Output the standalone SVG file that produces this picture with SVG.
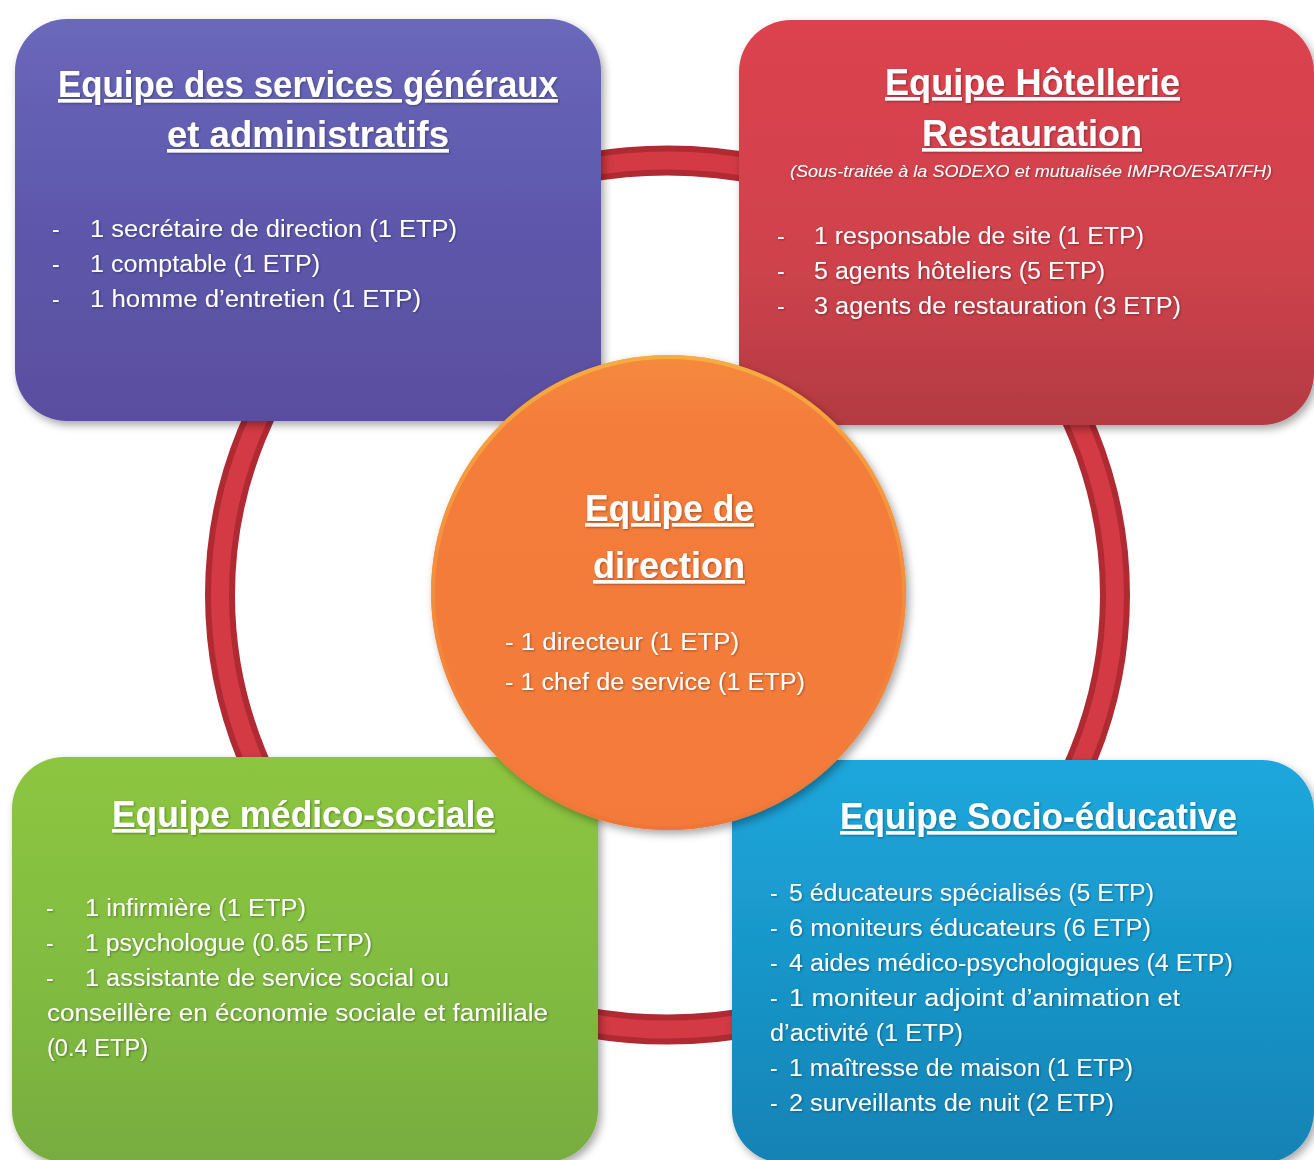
<svg xmlns="http://www.w3.org/2000/svg" width="1314" height="1160" viewBox="0 0 1314 1160">
<style>
.t{font-family:"Liberation Sans",Arial,sans-serif;font-weight:bold;font-size:36px;fill:#fff;text-decoration:underline}
.i{font-family:"Liberation Sans",Arial,sans-serif;font-size:23px;fill:#fff}
.s{font-family:"Liberation Sans",Arial,sans-serif;font-style:italic;font-size:17px;fill:#fff}
</style>
<defs>
<filter id="sh" x="-10%" y="-10%" width="120%" height="120%">
<feDropShadow dx="3" dy="4" stdDeviation="4" flood-color="#000" flood-opacity="0.35"/>
</filter>
<filter id="ts" x="-5%" y="-20%" width="110%" height="140%">
<feDropShadow dx="1" dy="1" stdDeviation="0.8" flood-color="#000" flood-opacity="0.35"/>
</filter>
<linearGradient id="gP" x1="0" y1="0" x2="0" y2="1">
<stop offset="0" stop-color="#6a68bb"/><stop offset="0.5" stop-color="#5d58ac"/><stop offset="1" stop-color="#5a4e9f"/>
</linearGradient>
<linearGradient id="gR" x1="0" y1="0" x2="0" y2="1">
<stop offset="0" stop-color="#dc434e"/><stop offset="0.6" stop-color="#cf434c"/><stop offset="1" stop-color="#b33a41"/>
</linearGradient>
<linearGradient id="gG" x1="0" y1="0" x2="0" y2="1">
<stop offset="0" stop-color="#8cc63f"/><stop offset="0.5" stop-color="#82bd42"/><stop offset="1" stop-color="#77ad3f"/>
</linearGradient>
<linearGradient id="gB" x1="0" y1="0" x2="0" y2="1">
<stop offset="0" stop-color="#1ea7dc"/><stop offset="0.5" stop-color="#1896c9"/><stop offset="1" stop-color="#1382b4"/>
</linearGradient>
<linearGradient id="gO" x1="0" y1="0" x2="0" y2="1">
<stop offset="0" stop-color="#f58a3d"/><stop offset="0.15" stop-color="#f47d3b"/><stop offset="1" stop-color="#f37a3b"/>
</linearGradient>
<linearGradient id="gOr" x1="0" y1="0" x2="0" y2="1">
<stop offset="0" stop-color="#f6b640"/><stop offset="0.35" stop-color="#f59a3e"/><stop offset="1" stop-color="#ee7436"/>
</linearGradient>
</defs>

<g id="connectors">
<ellipse cx="667.5" cy="595" rx="447.5" ry="434.5" fill="none" stroke="#b02a33" stroke-width="30"/>
<ellipse cx="667.5" cy="595" rx="447.5" ry="434.5" fill="none" stroke="#d33a43" stroke-width="18"/>
</g>

<g id="node-services-generaux">
<rect x="15" y="19" width="586" height="402" rx="52" fill="url(#gP)" filter="url(#sh)"/>
<g filter="url(#ts)">
<text class="t" x="58" y="97" textLength="500" lengthAdjust="spacingAndGlyphs">Equipe des services généraux</text>
<text class="t" x="167" y="147" textLength="282" lengthAdjust="spacingAndGlyphs">et administratifs</text>
<text class="i" x="52" y="237">-</text>
<text class="i" x="52" y="272">-</text>
<text class="i" x="52" y="307">-</text>
<text class="i" x="90" y="237" textLength="367" lengthAdjust="spacingAndGlyphs">1 secrétaire de direction (1 ETP)</text>
<text class="i" x="90" y="272" textLength="230" lengthAdjust="spacingAndGlyphs">1 comptable (1 ETP)</text>
<text class="i" x="90" y="307" textLength="331" lengthAdjust="spacingAndGlyphs">1 homme d’entretien (1 ETP)</text>
</g>
</g>

<g id="node-hotellerie">
<rect x="739" y="20" width="575" height="405" rx="52" fill="url(#gR)" filter="url(#sh)"/>
<g filter="url(#ts)">
<text class="t" x="885" y="95" textLength="295" lengthAdjust="spacingAndGlyphs">Equipe Hôtellerie</text>
<text class="t" x="922" y="146" textLength="220" lengthAdjust="spacingAndGlyphs">Restauration</text>
<text class="s" x="790" y="177" textLength="482" lengthAdjust="spacingAndGlyphs">(Sous-traitée à la SODEXO et mutualisée IMPRO/ESAT/FH)</text>
<text class="i" x="777" y="244">-</text>
<text class="i" x="777" y="279">-</text>
<text class="i" x="777" y="314">-</text>
<text class="i" x="814" y="244" textLength="330" lengthAdjust="spacingAndGlyphs">1 responsable de site (1 ETP)</text>
<text class="i" x="814" y="279" textLength="291" lengthAdjust="spacingAndGlyphs">5 agents hôteliers (5 ETP)</text>
<text class="i" x="814" y="314" textLength="367" lengthAdjust="spacingAndGlyphs">3 agents de restauration (3 ETP)</text>
</g>
</g>

<g id="node-medico-sociale">
<rect x="12" y="757" width="586" height="405" rx="52" fill="url(#gG)" filter="url(#sh)"/>
<g filter="url(#ts)">
<text class="t" x="112" y="827" textLength="383" lengthAdjust="spacingAndGlyphs">Equipe médico-sociale</text>
<text class="i" x="46" y="916">-</text>
<text class="i" x="46" y="951">-</text>
<text class="i" x="46" y="986">-</text>
<text class="i" x="85" y="916" textLength="221" lengthAdjust="spacingAndGlyphs">1 infirmière (1 ETP)</text>
<text class="i" x="85" y="951" textLength="287" lengthAdjust="spacingAndGlyphs">1 psychologue (0.65 ETP)</text>
<text class="i" x="85" y="986" textLength="364" lengthAdjust="spacingAndGlyphs">1 assistante de service social ou</text>
<text class="i" x="47" y="1021" textLength="501" lengthAdjust="spacingAndGlyphs">conseillère en économie sociale et familiale</text>
<text class="i" x="47" y="1056" textLength="101" lengthAdjust="spacingAndGlyphs">(0.4 ETP)</text>
</g>
</g>

<g id="node-socio-educative">
<rect x="732" y="760" width="582" height="403" rx="52" fill="url(#gB)" filter="url(#sh)"/>
<g filter="url(#ts)">
<text class="t" x="840" y="829" textLength="397" lengthAdjust="spacingAndGlyphs">Equipe Socio-éducative</text>
<text class="i" x="770" y="901">-</text>
<text class="i" x="770" y="936">-</text>
<text class="i" x="770" y="971">-</text>
<text class="i" x="770" y="1006">-</text>
<text class="i" x="770" y="1076">-</text>
<text class="i" x="770" y="1111">-</text>
<text class="i" x="789" y="901" textLength="365" lengthAdjust="spacingAndGlyphs">5 éducateurs spécialisés (5 ETP)</text>
<text class="i" x="789" y="936" textLength="362" lengthAdjust="spacingAndGlyphs">6 moniteurs éducateurs (6 ETP)</text>
<text class="i" x="789" y="971" textLength="444" lengthAdjust="spacingAndGlyphs">4 aides médico-psychologiques (4 ETP)</text>
<text class="i" x="789" y="1006" textLength="391" lengthAdjust="spacingAndGlyphs">1 moniteur adjoint d’animation et</text>
<text class="i" x="770" y="1041" textLength="193" lengthAdjust="spacingAndGlyphs">d’activité (1 ETP)</text>
<text class="i" x="789" y="1076" textLength="344" lengthAdjust="spacingAndGlyphs">1 maîtresse de maison (1 ETP)</text>
<text class="i" x="789" y="1111" textLength="325" lengthAdjust="spacingAndGlyphs">2 surveillants de nuit (2 ETP)</text>
</g>
</g>

<g id="node-direction">
<circle cx="668.5" cy="592.5" r="237.5" fill="url(#gO)" filter="url(#sh)"/>
<circle cx="668.5" cy="592.5" r="235.5" fill="none" stroke="url(#gOr)" stroke-width="4" opacity="0.8"/>
<g filter="url(#ts)">
<text class="t" x="585" y="521" textLength="169" lengthAdjust="spacingAndGlyphs">Equipe de</text>
<text class="t" x="593" y="578" textLength="152" lengthAdjust="spacingAndGlyphs">direction</text>
<text class="i" x="505" y="650" textLength="234" lengthAdjust="spacingAndGlyphs">- 1 directeur (1 ETP)</text>
<text class="i" x="505" y="690" textLength="300" lengthAdjust="spacingAndGlyphs">- 1 chef de service (1 ETP)</text>
</g>
</g>
</svg>
